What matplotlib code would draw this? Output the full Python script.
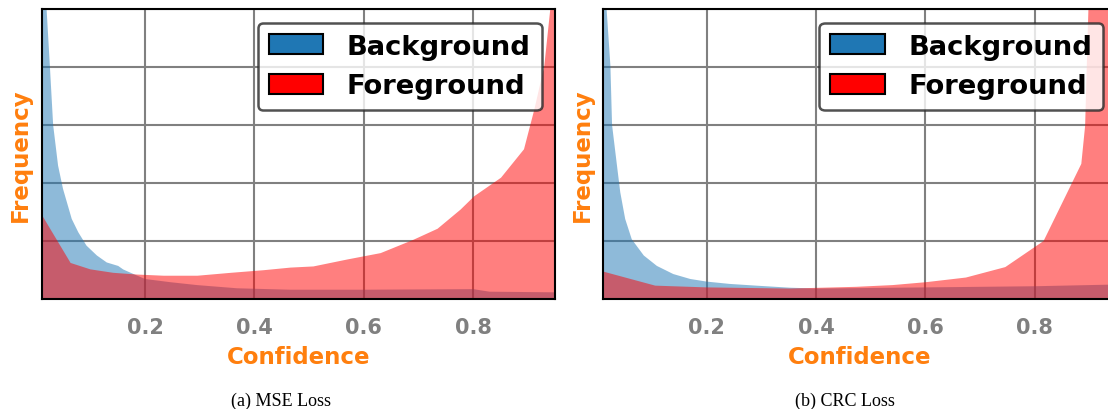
import matplotlib.pyplot as plt
from matplotlib.patches import Patch

# MSE loss panel, values in grid units (one unit = one horizontal gridline)
mse_bg_x = [0.010, 0.020, 0.026, 0.032, 0.041, 0.050, 0.066, 0.078, 0.093, 0.112,
            0.130, 0.151, 0.160, 0.179, 0.200, 0.246, 0.295, 0.368, 0.465, 0.600,
            0.700, 0.800, 0.830, 0.950]
mse_bg_y = [12.0, 5.0, 4.02, 3.0, 2.30, 1.90, 1.38, 1.15, 0.92, 0.75,
            0.63, 0.57, 0.51, 0.43, 0.345, 0.29, 0.24, 0.185, 0.16, 0.16,
            0.165, 0.17, 0.126, 0.115]
mse_fg_x = [0.011, 0.063, 0.099, 0.141, 0.185, 0.233, 0.295, 0.356, 0.416, 0.465,
            0.507, 0.569, 0.630, 0.690, 0.734, 0.776, 0.801, 0.850, 0.892, 0.911,
            0.929, 0.940, 0.950]
mse_fg_y = [1.45, 0.63, 0.52, 0.46, 0.43, 0.41, 0.41, 0.46, 0.505, 0.55,
            0.57, 0.69, 0.80, 1.03, 1.22, 1.55, 1.78, 2.10, 2.59, 3.28,
            4.02, 5.0, 6.0]

# CRC loss panel
crc_bg_x = [0.010, 0.017, 0.024, 0.027, 0.036, 0.042, 0.051, 0.063, 0.085, 0.109,
            0.139, 0.170, 0.200, 0.242, 0.291, 0.352, 0.400, 0.600, 0.800, 0.950]
crc_bg_y = [12.0, 5.0, 4.02, 3.0, 2.30, 1.84, 1.38, 1.03, 0.75, 0.57,
            0.43, 0.345, 0.30, 0.26, 0.23, 0.195, 0.18, 0.20, 0.22, 0.25]
crc_fg_x = [0.012, 0.106, 0.200, 0.352, 0.473, 0.540, 0.601, 0.674, 0.746, 0.816,
            0.885, 0.892, 0.895, 0.898, 0.910, 0.950]
crc_fg_y = [0.47, 0.23, 0.20, 0.18, 0.21, 0.24, 0.29, 0.37, 0.55, 1.0,
            2.33, 2.99, 4.02, 5.0, 12.0, 14.0]

panels = [
    ("(a) MSE Loss", mse_bg_x, mse_bg_y, mse_fg_x, mse_fg_y),
    ("(b) CRC Loss", crc_bg_x, crc_bg_y, crc_fg_x, crc_fg_y),
]
xticks = [0.2, 0.4, 0.6, 0.8]

fig = plt.figure(figsize=(11.08, 4.10), dpi=100)
positions = [[0.0376, 0.2683, 0.4635, 0.7073], [0.5445, 0.2683, 0.4635, 0.7073]]
caption_x = [0.254, 0.763]

for pos, cx, (caption, bx, by, fx, fy) in zip(positions, caption_x, panels):
    ax = fig.add_axes(pos)
    ax.fill_between(bx, by, color='tab:blue', alpha=0.5, linewidth=0)
    ax.fill_between(fx, fy, color='red', alpha=0.5, linewidth=0)
    ax.set_xlim(0.011, 0.95)
    ax.set_ylim(0, 5)
    ax.set_xticks(xticks)
    ax.set_yticks(range(6))
    ax.set_yticklabels([])
    ax.set_axisbelow(True)
    ax.grid(True, color='gray', linewidth=1.5)
    ax.tick_params(axis='x', length=0, pad=13, labelsize=15, labelcolor='gray')
    ax.tick_params(axis='y', length=0, pad=0)
    for lbl in ax.get_xticklabels():
        lbl.set_fontweight('bold')
    for sp in ax.spines.values():
        sp.set_linewidth(1.5)
        sp.set_color('black')
    ax.set_xlabel("Confidence", fontsize=16.5, fontweight='bold', color='tab:orange', labelpad=6)
    ax.set_ylabel("Frequency", fontsize=16.5, fontweight='bold', color='tab:orange', labelpad=7)

    handles = [Patch(facecolor='tab:blue', edgecolor='black', linewidth=1.5, label='Background'),
               Patch(facecolor='red', edgecolor='black', linewidth=1.5, label='Foreground')]
    leg = ax.legend(handles=handles, loc='upper right', prop={'size': 19.7, 'weight': 'bold'},
                    handleheight=0.75, handlelength=2.0, handletextpad=0.85)
    leg.get_frame().set_edgecolor('0.15')
    leg.get_frame().set_linewidth(1.8)

    fig.text(cx, 0.022, caption, ha='center', va='center', fontsize=13, family='Liberation Serif')

fig.savefig("out.png", dpi=100)
